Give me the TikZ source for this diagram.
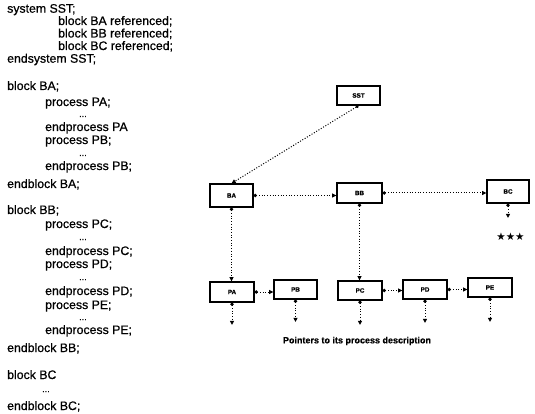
\documentclass[tikz,border=0pt]{standalone}
\usepackage{fontspec}
\setmainfont{Liberation Sans}[FakeBold=0.6]
\newfontfamily\codefont{Liberation Sans}[FakeBold=0.7]
\newfontfamily\symfont{DejaVu Sans}
\usetikzlibrary{arrows.meta}
\begin{document}
\begin{tikzpicture}[x=1pt,y=-1pt,
  box/.style={draw, line width=1.3pt, inner sep=0pt, minimum width=44pt, minimum height=20pt,
    font=\bfseries\fontsize{6.3}{7}\selectfont},
  ptr/.style={line width=1pt, dash pattern=on 1pt off 1.7pt,
    {Circle[length=3.2pt]}-{Triangle[length=4.2pt,width=4pt]}},
  code/.style={anchor=base west, inner sep=0pt, font=\codefont\fontsize{12.3}{14}\selectfont},
  cdots/.style={anchor=base west, inner sep=0pt, font=\codefont\fontsize{9}{10}\selectfont}]
\useasboundingbox (0,0) rectangle (535,414);

% ---- left text ----
\node[code] (t1) at (7,12.7) {system SST;};
\node[code] (t2) at (58,25) {block BA referenced;};
\node[code] (t3) at (58,37.5) {block BB referenced;};
\node[code] (t4) at (58,50) {block BC referenced;};
\node[code] (t5) at (7,62.7) {endsystem SST;};

\node[code] (t6) at (7,90) {block BA;};
\node[code] (t7) at (45,106) {process PA;};
\node[cdots] (t8) at (79,117) {...};
\node[code] (t9) at (45,131) {endprocess PA};
\node[code] (t10) at (45,144) {process PB;};
\node[cdots] (t11) at (79,156) {...};
\node[code] (t12) at (45,170) {endprocess PB;};
\node[code] (t13) at (7,188) {endblock BA;};

\node[code] (t14) at (7,214) {block BB;};
\node[code] (t15) at (45,228) {process PC;};
\node[cdots] (t16) at (79,240) {...};
\node[code] (t17) at (45,255) {endprocess PC;};
\node[code] (t18) at (45,268) {process PD;};
\node[cdots] (t19) at (79,280) {...};
\node[code] (t20) at (45,295) {endprocess PD;};
\node[code] (t21) at (45,309) {process PE;};
\node[cdots] (t22) at (79,320) {...};
\node[code] (t23) at (45,334) {endprocess PE;};
\node[code] (t24) at (7,352) {endblock BB;};

\node[code] (t25) at (7,379) {block BC};
\node[cdots] (t26) at (42,392) {...};
\node[code] (t27) at (7,410) {endblock BC;};

% ---- boxes ----
\node[box, minimum width=43pt, minimum height=19pt] (SST) at (358.5,95.5) {SST};
\node[box, minimum width=43pt, minimum height=23pt] (BA) at (231.5,195.5) {BA};
\node[box, minimum width=45pt, minimum height=20pt] (BB) at (359.5,193) {BB};
\node[box, minimum width=42pt, minimum height=23pt] (BC) at (508,191.5) {BC};

\node[box] (PA) at (232,292) {PA};
\node[box, minimum width=43pt, minimum height=19pt] (PB) at (295.5,289.5) {PB};
\node[box, minimum height=19pt] (PC) at (360,290.5) {PC};
\node[box, minimum height=19pt] (PD) at (425,289.5) {PD};
\node[box, minimum height=19pt] (PE) at (490,287.5) {PE};

% ---- free ends ----
\coordinate (bcend) at (508,218);
\coordinate (paend) at (232,325);
\coordinate (pbend) at (295.5,322);
\coordinate (pcend) at (360,325);
\coordinate (pdend) at (425,323);
\coordinate (peend) at (490,322);

% ---- connectors ----
\draw[ptr] (SST.south) -- (BA.north);
\draw[ptr] (BA.east) -- (BA.east -| BB.west);
\draw[ptr] (BB.east) -- (BB.east -| BC.west);
\draw[ptr] (BC.south) -- (bcend);
\draw[ptr] (BA.south) -- (BA.south |- PA.north);
\draw[ptr] (BB.south) -- (BB.south |- PC.north);
\draw[ptr] (PA.east) -- (PA.east -| PB.west);
\draw[ptr] (PC.east) -- (PC.east -| PD.west);
\draw[ptr] (PD.east) -- (PD.east -| PE.west);
\draw[ptr] (PA.south) -- (paend);
\draw[ptr] (PB.south) -- (pbend);
\draw[ptr] (PC.south) -- (pcend);
\draw[ptr] (PD.south) -- (pdend);
\draw[ptr] (PE.south) -- (peend);

% ---- stars and caption ----
\node[inner sep=0pt, font=\symfont\fontsize{10.5}{11}\selectfont] (stars) at (510.5,237) {★★★};
\node[inner sep=0pt, font=\bfseries\fontsize{9}{10}\selectfont] (cap) at (357,341) {Pointers to its process description};
\end{tikzpicture}
\end{document}
